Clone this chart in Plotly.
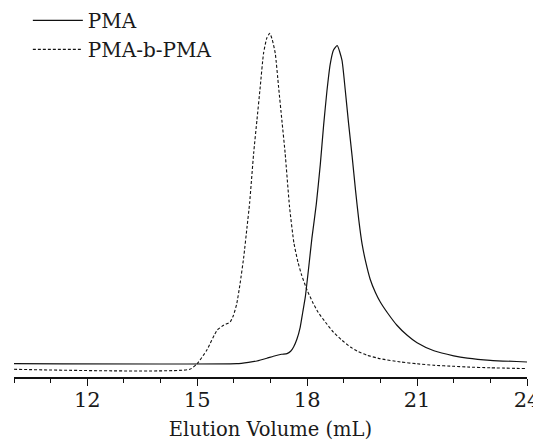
import plotly.graph_objects as go

# PMA (solid) - elution volume (mL) and detector signal readings
pma_x = [10.0, 16.08, 16.4, 16.63, 16.9, 17.08, 17.3, 17.45, 17.55, 17.63, 17.72, 17.81,
         17.88, 17.95, 18.04, 18.13, 18.25, 18.36, 18.45, 18.54, 18.63, 18.72, 18.82,
         18.95, 19.04, 19.13, 19.23, 19.32, 19.41, 19.5, 19.6, 19.72, 19.86, 20.0, 20.2,
         20.45, 20.73, 21.0, 21.46, 22.0, 22.37, 23.0, 24.0]
pma_py = [363.3, 363.3, 362.0, 360.7, 358.0, 356.0, 354.0, 353.3, 351.0, 346.7, 339.0, 327.0,
          312.0, 296.7, 268.0, 238.0, 204.0, 164.0, 125.0, 91.0, 64.0, 50.0, 45.5,
          60.0, 90.0, 123.0, 157.0, 190.0, 220.0, 244.0, 262.0, 279.0, 292.0, 302.0, 313.0,
          325.0, 335.0, 342.5, 350.5, 355.5, 357.8, 360.0, 361.7]

# PMA-b-PMA (dashed)
pmab_x = [10.0, 14.8, 15.0, 15.26, 15.54, 15.72, 15.90, 15.99, 16.08, 16.17, 16.27, 16.36,
          16.43, 16.54, 16.63, 16.72, 16.81, 16.90, 16.98, 17.05, 17.13, 17.22, 17.31,
          17.40, 17.52, 17.64, 17.75, 17.85, 18.0, 18.15, 18.3, 18.5, 18.72, 18.95,
          19.18, 19.4, 19.64, 20.0, 20.55, 21.0, 21.46, 22.0, 22.37, 23.0, 24.0]
pmab_py = [369.0, 369.0, 363.3, 350.0, 330.0, 325.0, 321.7, 315.0, 303.3, 283.3, 256.7, 226.7,
           203.0, 153.3, 120.0, 86.7, 53.3, 38.0, 33.3, 40.0, 53.3, 86.7, 120.0,
           153.3, 206.7, 243.0, 262.0, 275.0, 290.0, 302.0, 312.0, 322.0, 332.0, 340.0,
           346.7, 351.5, 355.0, 358.5, 361.7, 363.5, 365.0, 366.0, 366.7, 367.5, 368.3]

# convert read-off readings to normalized intensity
pma_y = [round((376.7 - p) / 343.4, 4) for p in pma_py]
pmab_y = [round((376.7 - p) / 343.4, 4) for p in pmab_py]

tick_vals = [12, 15, 18, 21, 24]
tick_text = ["12", "15", "18", "21", "24"]

FONT = "DejaVu Serif"

fig = go.Figure()
fig.add_trace(go.Scatter(x=pma_x, y=pma_y, mode="lines", name="PMA",
                         line=dict(color="#111111", width=1.2, shape="spline", smoothing=0.5)))
fig.add_trace(go.Scatter(x=pmab_x, y=pmab_y, mode="lines", name="PMA-b-PMA",
                         line=dict(color="#111111", width=1.1, dash="3px,2px", shape="spline", smoothing=0.5)))

fig.update_layout(
    width=533, height=438,
    margin=dict(l=6, r=14, t=2, b=69, autoexpand=False),
    paper_bgcolor="white", plot_bgcolor="white",
    font=dict(family=FONT, size=21, color="#1a1a1a"),
    showlegend=True,
    legend=dict(x=0.027, y=1.025, xanchor="left", yanchor="top", bgcolor="rgba(0,0,0,0)",
                font=dict(family=FONT, size=20, color="#1a1a1a"), itemwidth=50,
                tracegroupgap=0),
    xaxis=dict(range=[10, 24], showline=True, linecolor="#111111", linewidth=1.5,
               ticks="outside", ticklen=7, tickwidth=1.3, tickcolor="#111111",
               tickvals=tick_vals, ticktext=tick_text, showgrid=False, zeroline=False,
               ticklabelstandoff=-4,
               minor=dict(dtick=1, tick0=10, ticks="outside", ticklen=4, tickwidth=1.3,
                          tickcolor="#111111", showgrid=False),
               title=dict(text="Elution Volume (mL)", standoff=11,
                          font=dict(family=FONT, size=19.5)),
               tickfont=dict(family=FONT, size=21)),
    yaxis=dict(range=[0, (376.7 - 10) / 343.4], visible=False, showgrid=False, zeroline=False),
)

fig.write_html("out.html")
